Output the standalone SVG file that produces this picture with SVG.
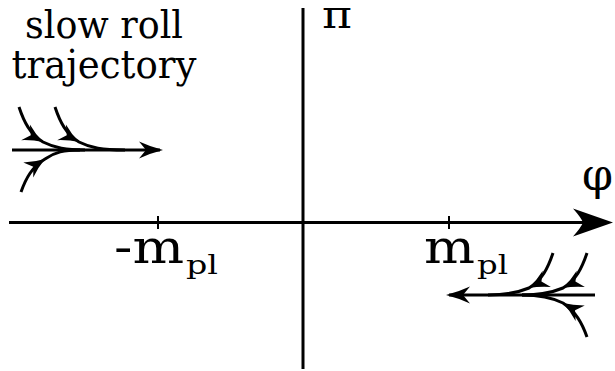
<svg xmlns="http://www.w3.org/2000/svg" width="615" height="371" viewBox="0 0 615 371">
  <style>
    .ax { stroke: #000; stroke-width: 3; fill: none; }
    .tick { stroke: #000; stroke-width: 2; }
    .tr { stroke: #000; stroke-width: 3; fill: none; }
    .lbl { font-family: "DejaVu Serif", "Liberation Serif", serif; fill: #000; }
  </style>
  <defs>
    <marker id="arr" markerUnits="userSpaceOnUse" viewBox="-28 -10 32 20" refX="-3" refY="0" markerWidth="32" markerHeight="20" orient="auto" overflow="visible">
      <path d="M0,0 Q-12,-3 -24,-8.5 L-17,0 L-24,8.5 Q-12,3 0,0 Z" fill="#000"/>
    </marker>
    <marker id="arrm" markerUnits="userSpaceOnUse" viewBox="-24 -10 28 20" refX="0" refY="0" markerWidth="28" markerHeight="20" orient="auto" overflow="visible">
      <path d="M0,0 Q-10,-3 -20,-9 L-14,0 L-20,9 Q-10,3 0,0 Z" fill="#000"/>
    </marker>
    <marker id="big" markerUnits="userSpaceOnUse" viewBox="-44 -16 48 32" refX="-8" refY="0" markerWidth="48" markerHeight="32" orient="auto" overflow="visible">
      <path d="M0,0 L-40,-14 Q-32,-5 -30,0 Q-32,5 -40,14 Z" fill="#000"/>
    </marker>
  </defs>

  <g id="axes">
    <path id="phi-axis" class="ax" d="M9,222.5 L605,222.5" marker-end="url(#big)"/>
    <path id="pi-axis" class="ax" d="M303,8 L303,369"/>
    <line class="tick" x1="158" y1="216" x2="158" y2="229"/>
    <line class="tick" x1="449" y1="216" x2="449" y2="229"/>
  </g>

  <g id="labels">
    <text class="lbl" x="104" y="38" font-size="39" text-anchor="middle" textLength="158" lengthAdjust="spacingAndGlyphs">slow roll</text>
    <text class="lbl" x="104" y="78" font-size="39" text-anchor="middle" textLength="185" lengthAdjust="spacingAndGlyphs">trajectory</text>
    <text class="lbl" x="322" y="28" font-size="40" textLength="30" lengthAdjust="spacingAndGlyphs">π</text>
    <text class="lbl" x="582" y="190" font-size="45" textLength="31" lengthAdjust="spacingAndGlyphs">φ</text>
    <text class="lbl" x="114" y="263" font-size="47" textLength="70" lengthAdjust="spacingAndGlyphs">-m</text>
    <text class="lbl" x="186" y="274" font-size="26" textLength="32" lengthAdjust="spacingAndGlyphs">pl</text>
    <text class="lbl" x="424" y="263" font-size="47" textLength="51" lengthAdjust="spacingAndGlyphs">m</text>
    <text class="lbl" x="477" y="274" font-size="26" textLength="31" lengthAdjust="spacingAndGlyphs">pl</text>
  </g>

  <g id="trajectory-left">
    <path class="tr" d="M12,150 L160,150" marker-end="url(#arr)"/>
    <path class="tr" d="M19,107 C24,122 30,134 43,142 C55,148 66,150 85,150" marker-mid="url(#arrm)"/>
    <path class="tr" d="M55,107 C60,122 66,134 79,142 C91,148 102,150 125,150" marker-mid="url(#arrm)"/>
    <path class="tr" d="M21,192 C26,178 32,167 45,159 C55,152 64,150 80,150" marker-mid="url(#arrm)"/>
  </g>

  <g id="trajectory-right">
    <path class="tr" d="M595,295 L449,295" marker-end="url(#arr)"/>
    <path class="tr" d="M553,253 C548,268 542,280 529,288 C517,293 506,295 488,295" marker-mid="url(#arrm)"/>
    <path class="tr" d="M587,253 C582,268 576,280 563,288 C551,293 540,295 522,295" marker-mid="url(#arrm)"/>
    <path class="tr" d="M587,337 C582,323 576,312 563,303 C551,297 540,295 522,295" marker-mid="url(#arrm)"/>
  </g>
</svg>
